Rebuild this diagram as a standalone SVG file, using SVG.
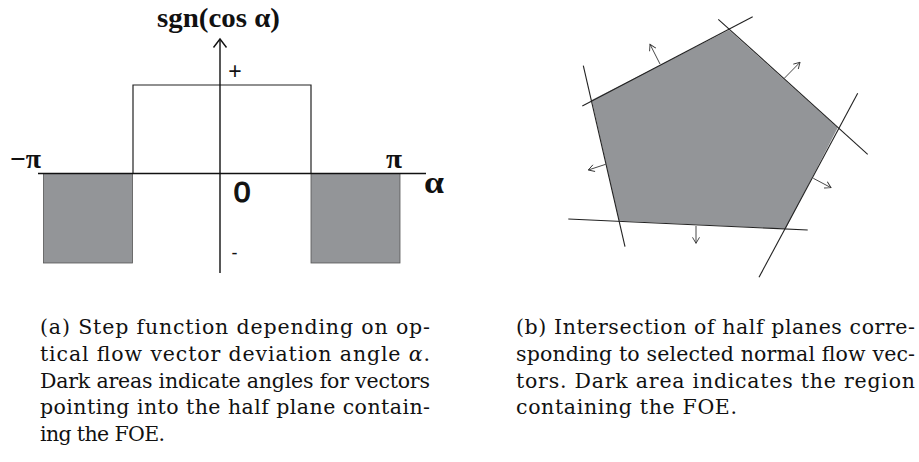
<svg xmlns="http://www.w3.org/2000/svg" width="919" height="462" viewBox="0 0 919 462">
<style>
.axis{stroke:#111;stroke-width:1.4;fill:none}
.step{stroke:#222;stroke-width:1.2;fill:none}
.dark{fill:#939598;stroke:#555;stroke-width:0.8}
.lbl{font-family:"Liberation Serif",serif;font-weight:bold;fill:#111}
.sans{font-family:"Liberation Sans",Arial,sans-serif;fill:#111}
.ln{stroke:#222;stroke-width:1.1;fill:none}
.vec{stroke:#333;stroke-width:0.9;fill:none;marker-end:url(#arr)}
.cap{font-family:"DejaVu Serif","Liberation Serif",serif;font-size:20.5px;fill:#111}
</style>
<defs>
<marker id="arr" markerUnits="userSpaceOnUse" markerWidth="12" markerHeight="12" refX="7" refY="4" orient="auto">
<path d="M1,0.5 L7,4 L1,7.5" fill="none" stroke="#333" stroke-width="0.9"/>
</marker>
</defs>
<rect width="919" height="462" fill="#fff"/>
<g id="left-plot">
<rect class="dark" x="43.5" y="173.5" width="89" height="89.5"/>
<rect class="dark" x="311" y="173.5" width="89" height="89.5"/>
<path class="step" d="M133,173 V85 H311 V173"/>
<path class="axis" d="M38,173.5 H426"/>
<path class="axis" d="M220,39 V273"/>
<path class="axis" d="M213.5,47.5 L220,39 L226.5,47.5"/>
<text class="lbl" x="157" y="27" font-size="27" textLength="123" lengthAdjust="spacingAndGlyphs">sgn(cos α)</text>
<text class="sans" x="235" y="79" font-size="23" text-anchor="middle">+</text>
<text class="sans" x="234.5" y="259" font-size="18" text-anchor="middle">-</text>
<text class="sans" x="242" y="202" font-size="30" text-anchor="middle" stroke="#111" stroke-width="1.2">0</text>
<text class="lbl" x="10" y="168" font-size="27" textLength="31" lengthAdjust="spacingAndGlyphs">−π</text>
<text class="lbl" x="386" y="168" font-size="27" textLength="16" lengthAdjust="spacingAndGlyphs">π</text>
<text class="lbl" x="424" y="193" font-size="31" textLength="20" lengthAdjust="spacingAndGlyphs">α</text>
</g>
<g id="right-plot">
<polygon points="729,30 837.7,127.7 785.7,228.7 619,220.7 591.7,100" fill="#939598"/>
<g id="connectors">
<line class="ln" x1="582.3" y1="106" x2="752.7" y2="16.7"/>
<line class="ln" x1="718.3" y1="19.3" x2="867.7" y2="154.3"/>
<line class="ln" x1="857.7" y1="93.3" x2="759" y2="277.3"/>
<line class="ln" x1="568.3" y1="219" x2="807.7" y2="230"/>
<line class="ln" x1="583.3" y1="65.7" x2="625" y2="246.7"/>
<line class="vec" x1="660" y1="64" x2="650" y2="44.3"/>
<line class="vec" x1="784.3" y1="78.3" x2="800" y2="62.3"/>
<line class="vec" x1="813.3" y1="178.3" x2="831" y2="187.7"/>
<line class="vec" x1="696" y1="226" x2="696" y2="243.3"/>
<line class="vec" x1="605.7" y1="164.3" x2="588.3" y2="170"/>
</g>
</g>
<g id="caption-a">
<text class="cap" x="40" y="334" textLength="390" lengthAdjust="spacing">(a) Step function depending on op-</text>
<text class="cap" x="40" y="361" textLength="390" lengthAdjust="spacing">tical flow vector deviation angle <tspan font-style="italic">α</tspan>.</text>
<text class="cap" x="40" y="387.5" textLength="390" lengthAdjust="spacing">Dark areas indicate angles for vectors</text>
<text class="cap" x="40" y="414" textLength="390" lengthAdjust="spacing">pointing into the half plane contain-</text>
<text class="cap" x="40" y="441" textLength="125" lengthAdjust="spacing">ing the FOE.</text>
</g>
<g id="caption-b">
<text class="cap" x="516" y="334" textLength="399" lengthAdjust="spacing">(b) Intersection of half planes corre-</text>
<text class="cap" x="516" y="361" textLength="399" lengthAdjust="spacing">sponding to selected normal flow vec-</text>
<text class="cap" x="516" y="387.5" textLength="399" lengthAdjust="spacing">tors.  Dark area indicates the region</text>
<text class="cap" x="516" y="414" textLength="221" lengthAdjust="spacing">containing the FOE.</text>
</g>
</svg>
